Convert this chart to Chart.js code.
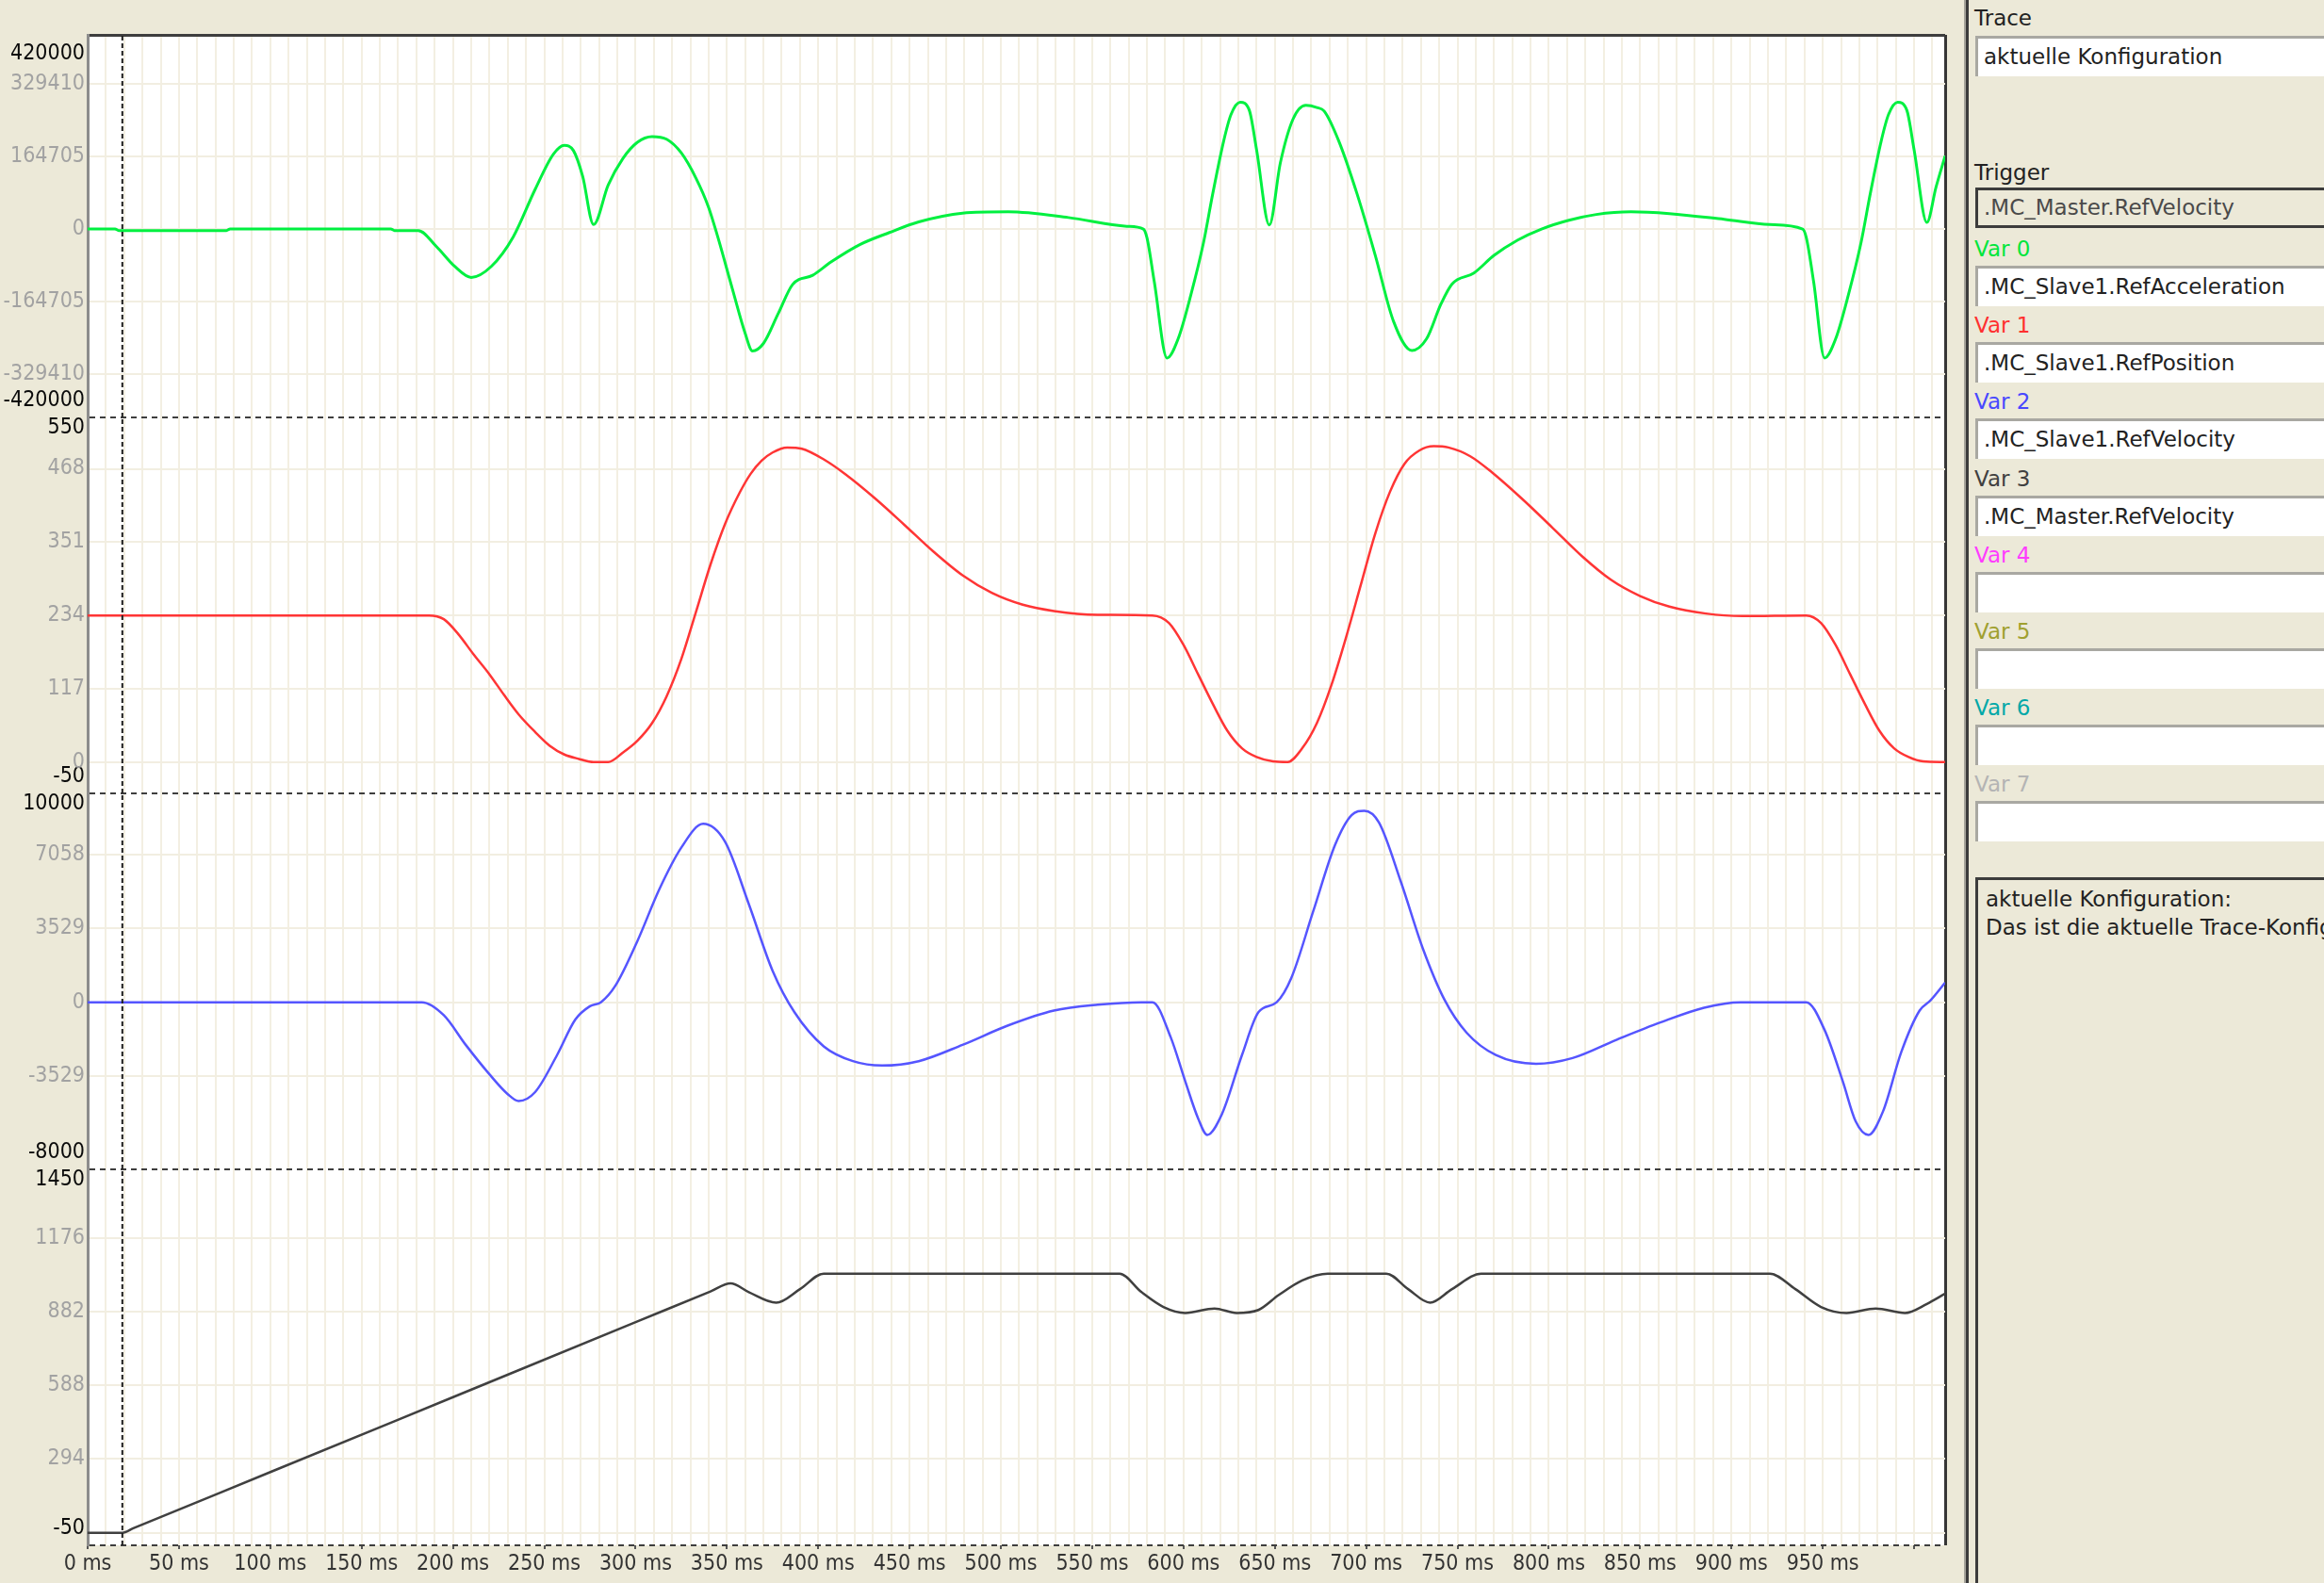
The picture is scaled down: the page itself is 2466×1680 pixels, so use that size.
<!DOCTYPE html>
<html>
<head>
<meta charset="utf-8">
<title>Trace</title>
<script src="https://cdn.jsdelivr.net/npm/chart.js@4.4.1/dist/chart.umd.min.js"></script>
<style>
    html, body {
        margin: 0;
        padding: 0;
        width: 2466px;
        height: 1680px;
        overflow: hidden;
        background: #ece9d8;
        font-family: 'DejaVu Sans', sans-serif;
        color: #222;
    }
    #plot { position: absolute; left: 0; top: 0; }
    .splitLight { position: absolute; left: 2084px; top: 0; width: 2px; height: 1680px; background: #a4a29a; }
    .splitDark { position: absolute; left: 2086px; top: 0; width: 3px; height: 1680px; background: #3c3c3c; }
    .lbl { position: absolute; left: 2095px; height: 36px; line-height: 36px; font-size: 23px; white-space: nowrap; }
    .box {
        position: absolute; left: 2096px; width: 420px; height: 43px;
        box-sizing: border-box; background: #fff;
        border-top: 3px solid #a9a8a2; border-left: 3px solid #a9a8a2;
        padding-left: 6px; line-height: 38px; font-size: 23px; white-space: nowrap; color: #222;
    }
    .box.trigger { background: #ece9d8; border: 3px solid #3c3c3c; border-right: none; color: #4a4a4a; line-height: 36px; }
    .desc {
        position: absolute; left: 2096px; top: 931px; width: 420px; height: 800px;
        box-sizing: border-box; border-top: 3px solid #3c3c3c; border-left: 3px solid #3c3c3c;
        padding: 5px 0 0 8px; font-size: 23px; line-height: 30px; white-space: nowrap;
    }
</style>
</head>
<body>
<canvas id="plot" width="2072" height="1680"></canvas>
<div class="splitLight"></div>
<div class="splitDark"></div>
<div id="side"></div>

<script>
// time axis (ms)
const xMax = 1017;
const xGridStep = 10;
const xLabelStep = 50;
const xLastLabel = 950;
const cursorTime = 19;

// Var 0: .MC_Slave1.RefAcceleration
const accTime = [0, 15, 17, 76, 78, 166, 168, 181, 191, 201, 210, 221, 233, 245, 255, 261, 266, 271, 277,
    285, 293, 301, 309, 317, 325, 333, 340, 345, 353, 360, 364, 370, 378, 386, 397, 407, 423, 439, 455, 479,
    504, 537, 569, 578, 580, 584, 591, 597, 604, 611, 616, 622, 626, 631, 636, 640, 647, 653, 660, 667, 673,
    677, 685, 695, 705, 715, 725, 733, 741, 747, 759, 770, 783, 796, 811, 826, 845, 866, 896, 921, 939, 941,
    945, 951, 957, 964, 971, 976, 982, 986, 991, 996, 1000, 1007, 1012, 1017];
const accValues = [0, 0, -3500, -3500, 0, 0, -3500, -3500, -40000, -85000, -110000, -85000, -18000, 90000,
    170000, 190000, 178000, 120000, 10000,
    100000, 160000, 197000, 210000, 204000, 173000, 116000, 49000, -18000, -136000, -237000, -277000, -260000,
    -193000, -126000, -105000, -75000, -35000, -8000, 16000, 36000,
    39000, 26000, 6000, 0, -20000, -120000, -293000, -250000, -150000, -30000, 80000, 200000, 260000, 288000,
    270000, 180000, 9000, 150000, 250000, 281000, 276000,
    268000, 200000, 80000, -60000, -210000, -276000, -250000, -170000, -125000, -100000, -60000, -25000, 0,
    20000, 33000, 39000, 35000, 22000, 10000, 0, -20000,
    -120000, -293000, -250000, -150000, -30000, 80000, 200000, 260000, 288000, 270000, 180000, 15000, 95000, 166000];

// Var 1: .MC_Slave1.RefPosition
const posTime = [0, 187, 195, 203, 211, 220, 228, 236, 245, 253, 261, 269, 277, 285, 293, 301, 309, 317, 325,
    333, 341, 349, 357, 363, 369, 375, 383, 391, 403, 415, 431, 447, 463, 479, 495, 512, 529, 553, 583, 592, 600,
    608, 616, 624, 632, 640, 649, 657, 665, 673, 681, 689, 697, 705, 713, 721, 729, 737, 745, 757, 769, 785,
    802, 818, 834, 850, 866, 886, 906, 941, 949, 957, 965, 973, 981, 989, 997, 1005, 1017];
const posValues = [234, 234, 228, 204, 173, 140, 107, 76, 48, 26, 12, 5, 0, 0, 15, 34, 62, 105, 164,
    239, 315, 380, 430, 460, 481, 494, 502, 500, 483, 459, 421, 379, 336, 298, 270, 251, 241, 235, 234, 222, 187,
    140, 93, 50, 22, 8, 1, 0, 22, 62, 123, 199, 282, 365, 431, 476, 497, 504, 502, 488, 462, 421,
    374, 329, 291, 265, 248, 237, 233, 234, 222, 187, 140, 93, 50, 22, 8, 1, 0];

// Var 2: .MC_Slave1.RefVelocity
const velTime = [0, 183, 195, 207, 220, 230, 236, 245, 257, 267, 275, 281, 289, 301, 313, 325, 337, 349,
    362, 375, 387, 403, 419, 435, 455, 479, 504, 529, 553, 577, 583, 593, 601, 608, 613, 621, 632, 641, 651,
    659, 671, 683, 692, 699, 707, 719, 731, 743, 755, 771, 793, 813, 837, 861, 885, 905, 941, 951, 961, 968,
    975, 983, 993, 1003, 1009, 1017];
const velValues = [0, 0, -620, -2040, -3450, -4400, -4730, -4300, -2530, -830, -190, 0, 800, 2930, 5410,
    7400, 8540, 7680, 4700, 1510, -480, -2110, -2820, -3030, -2820, -2040, -1110, -400, -120, 0, 0, -1680,
    -3800, -5560, -6350, -5360, -2530, -480, 0, 1160, 4350, 7540, 8960, 9170, 8610, 5770, 2580, 100, -1460,
    -2530, -2950, -2670, -1800, -970, -260, 0, 0, -1330, -3800, -5700, -6350, -5220, -2380, -400, 90, 940];

// Var 3: .MC_Master.RefVelocity
const masterTime = [0, 19, 25, 101, 201, 301, 341, 352, 362, 377, 390, 403, 565, 577, 589, 601, 617, 629,
    641, 652, 665, 679, 711, 723, 735, 747, 763, 921, 935, 949, 963, 979, 995, 1007, 1017];
const masterValues = [0, 0, 18, 245, 544, 843, 963, 995, 960, 918, 972, 1034, 1034, 960, 901, 877, 895, 877,
    889, 948, 1007, 1034, 1034, 972, 918, 972, 1034, 1034, 972, 901, 877, 895, 877, 913, 954];

// y tick values per panel (first = min label, last = max label) and visible range
const accTicks = [-420000, -329410, -164705, 0, 164705, 329410, 420000];
const accRange = [-428000, 441000];
const posTicks = [-50, 0, 117, 234, 351, 468, 550];
const posRange = [-50, 550];
const velTicks = [-8000, -3529, 0, 3529, 7058, 10000];
const velRange = [-8000, 10000];
const masterTicks = [-50, 0, 294, 588, 882, 1176, 1450];
const masterRange = [-50, 1450];

const varLabels = ['Var 0', 'Var 1', 'Var 2', 'Var 3', 'Var 4', 'Var 5', 'Var 6', 'Var 7'];
const varColors = ['#00e63c', '#ff3030', '#4848ff', '#404040', '#ff3cff', '#a0a030', '#00a8a8', '#b4b4b4'];
const varNames = ['.MC_Slave1.RefAcceleration', '.MC_Slave1.RefPosition', '.MC_Slave1.RefVelocity',
    '.MC_Master.RefVelocity', '', '', '', ''];
const traceColors = ['#00f040', '#ff3535', '#5555ff', '#404040'];

const FONT = "'DejaVu Sans Condensed', 'Liberation Sans Narrow', 'DejaVu Sans', sans-serif";

function buildSidePanel() {
    const side = document.getElementById('side');
    let html = '';
    html += '<div class="lbl" style="top:1px">Trace</div>';
    html += '<div class="box" style="top:38px">aktuelle Konfiguration</div>';
    html += '<div class="lbl" style="top:165px">Trigger</div>';
    html += '<div class="box trigger" style="top:199px">.MC_Master.RefVelocity</div>';
    for (let i = 0; i < varLabels.length; i++) {
        const top = 246 + Math.round(i * 81.2);
        html += `<div class="lbl" style="top:${top}px;color:${varColors[i]}">${varLabels[i]}</div>`;
        html += `<div class="box" style="top:${top + 36}px">${varNames[i]}</div>`;
    }
    html += '<div class="desc">aktuelle Konfiguration:<br>Das ist die aktuelle Trace-Konfiguration</div>';
    side.innerHTML = html;
}

function toPoints(times, values) {
    return times.map((t, i) => ({ x: t, y: values[i] }));
}

// labelShift: [px the min label sits above its value, px the max label sits below its value]
function yAxis(ticks, range, weight, solidTop, labelShift) {
    const lo = range[0];
    const hi = range[1];
    const minLabel = ticks[0];
    const maxLabel = ticks[ticks.length - 1];
    const all = [lo, ...ticks.filter(v => v > lo && v < hi), hi];
    const isBound = v => v === lo || v === hi;
    const isEnd = v => v === minLabel || v === maxLabel;
    return {
        type: 'linear',
        position: 'left',
        stack: 'trace',
        stackWeight: weight,
        min: lo,
        max: hi,
        afterBuildTicks: scale => { scale.ticks = all.map(v => ({ value: v })); },
        afterFit: scale => { scale.width = 93; },
        border: {
            color: '#8c8c8c',
            width: 3,
            dash: c => (c.tick && isBound(c.tick.value) && !(solidTop && c.tick.value === hi)) ? [6, 5] : []
        },
        grid: {
            drawTicks: false,
            color: c => isBound(c.tick.value) ? '#3e3e3e' : (isEnd(c.tick.value) ? 'rgba(0,0,0,0)' : '#f2eee1'),
            lineWidth: c => (solidTop && c.tick.value === hi) ? 3 : 2
        },
        ticks: {
            autoSkip: false,
            padding: 3,
            color: c => isEnd(c.tick.value) ? '#0a0a0a' : '#a2a2a2',
            font: c => {
                let lh = 22;
                if (c.tick && c.tick.value === minLabel) lh = labelShift[0] * 2;
                if (c.tick && c.tick.value === maxLabel) lh = labelShift[1] * 2;
                return { family: FONT, size: 23, lineHeight: lh + 'px' };
            },
            callback: v => {
                if (v === minLabel) return [String(v), ''];
                if (v === maxLabel) return ['', String(v)];
                if (isBound(v)) return '';
                if ((v - minLabel) / (maxLabel - minLabel) < 0.05) return '';
                return String(v);
            }
        }
    };
}

function cursorLine(axisId, range) {
    return {
        label: 'cursor',
        data: [{ x: cursorTime, y: range[0] }, { x: cursorTime, y: range[1] }],
        yAxisID: axisId,
        borderColor: '#1e1e1e',
        borderWidth: 2,
        borderDash: [5, 3],
        pointRadius: 0
    };
}

function traceLine(label, times, values, axisId, color, width) {
    return {
        label: label,
        data: toPoints(times, values),
        yAxisID: axisId,
        borderColor: color,
        borderWidth: width,
        pointRadius: 0,
        cubicInterpolationMode: 'monotone',
        fill: false
    };
}

const plotBackground = {
    id: 'plotBackground',
    beforeDraw(chart) {
        const { ctx, chartArea: a } = chart;
        ctx.save();
        ctx.fillStyle = '#ffffff';
        ctx.fillRect(a.left, a.top, a.right - a.left, a.bottom - a.top);
        ctx.restore();
    }
};

function drawTrace() {
    const ctx = document.getElementById('plot').getContext('2d');
    new Chart(ctx, {
        type: 'line',
        data: {
            datasets: [
                cursorLine('yAcc', accRange),
                cursorLine('yPos', posRange),
                cursorLine('yVel', velRange),
                cursorLine('yMaster', masterRange),
                traceLine(varNames[0], accTime, accValues, 'yAcc', traceColors[0], 3),
                traceLine(varNames[1], posTime, posValues, 'yPos', traceColors[1], 2.5),
                traceLine(varNames[2], velTime, velValues, 'yVel', traceColors[2], 2.5),
                traceLine(varNames[3], masterTime, masterValues, 'yMaster', traceColors[3], 2.5)
            ]
        },
        options: {
            responsive: false,
            animation: false,
            devicePixelRatio: 1,
            layout: { padding: { top: 37, right: 8, left: 0, bottom: 0 } },
            plugins: { legend: { display: false }, tooltip: { enabled: false } },
            scales: {
                x: {
                    type: 'linear',
                    min: 0,
                    max: xMax,
                    afterBuildTicks: scale => {
                        const t = [];
                        for (let v = 0; v < xMax; v += xGridStep) t.push({ value: v });
                        t.push({ value: xMax });
                        scale.ticks = t;
                    },
                    afterFit: scale => { scale.height = 40; },
                    border: { display: false },
                    grid: {
                        color: c => c.tick.value === xMax ? '#363636' : '#f3efe2',
                        lineWidth: c => c.tick.value === xMax ? 3 : 2,
                        tickLength: 4,
                        tickWidth: 2,
                        tickColor: c => (c.tick.value % xLabelStep === 0) ? '#555555' : 'rgba(0,0,0,0)'
                    },
                    ticks: {
                        autoSkip: false,
                        maxRotation: 0,
                        padding: 2,
                        color: '#333333',
                        font: { family: FONT, size: 23 },
                        callback: v => (v % xLabelStep === 0 && v <= xLastLabel) ? v + ' ms' : ''
                    }
                },
                // stacked left axes are laid out bottom-up, so the lowest panel comes first
                yMaster: yAxis(masterTicks, masterRange, 1, false, [18, 11]),
                yVel: yAxis(velTicks, velRange, 1, false, [18, 11]),
                yPos: yAxis(posTicks, posRange, 1, false, [18, 11]),
                yAcc: yAxis(accTicks, accRange, 1.0175, true, [14, 10])
            }
        },
        plugins: [plotBackground]
    });
}

document.addEventListener('DOMContentLoaded', () => {
    buildSidePanel();
    drawTrace();
});
</script>
</body>
</html>
